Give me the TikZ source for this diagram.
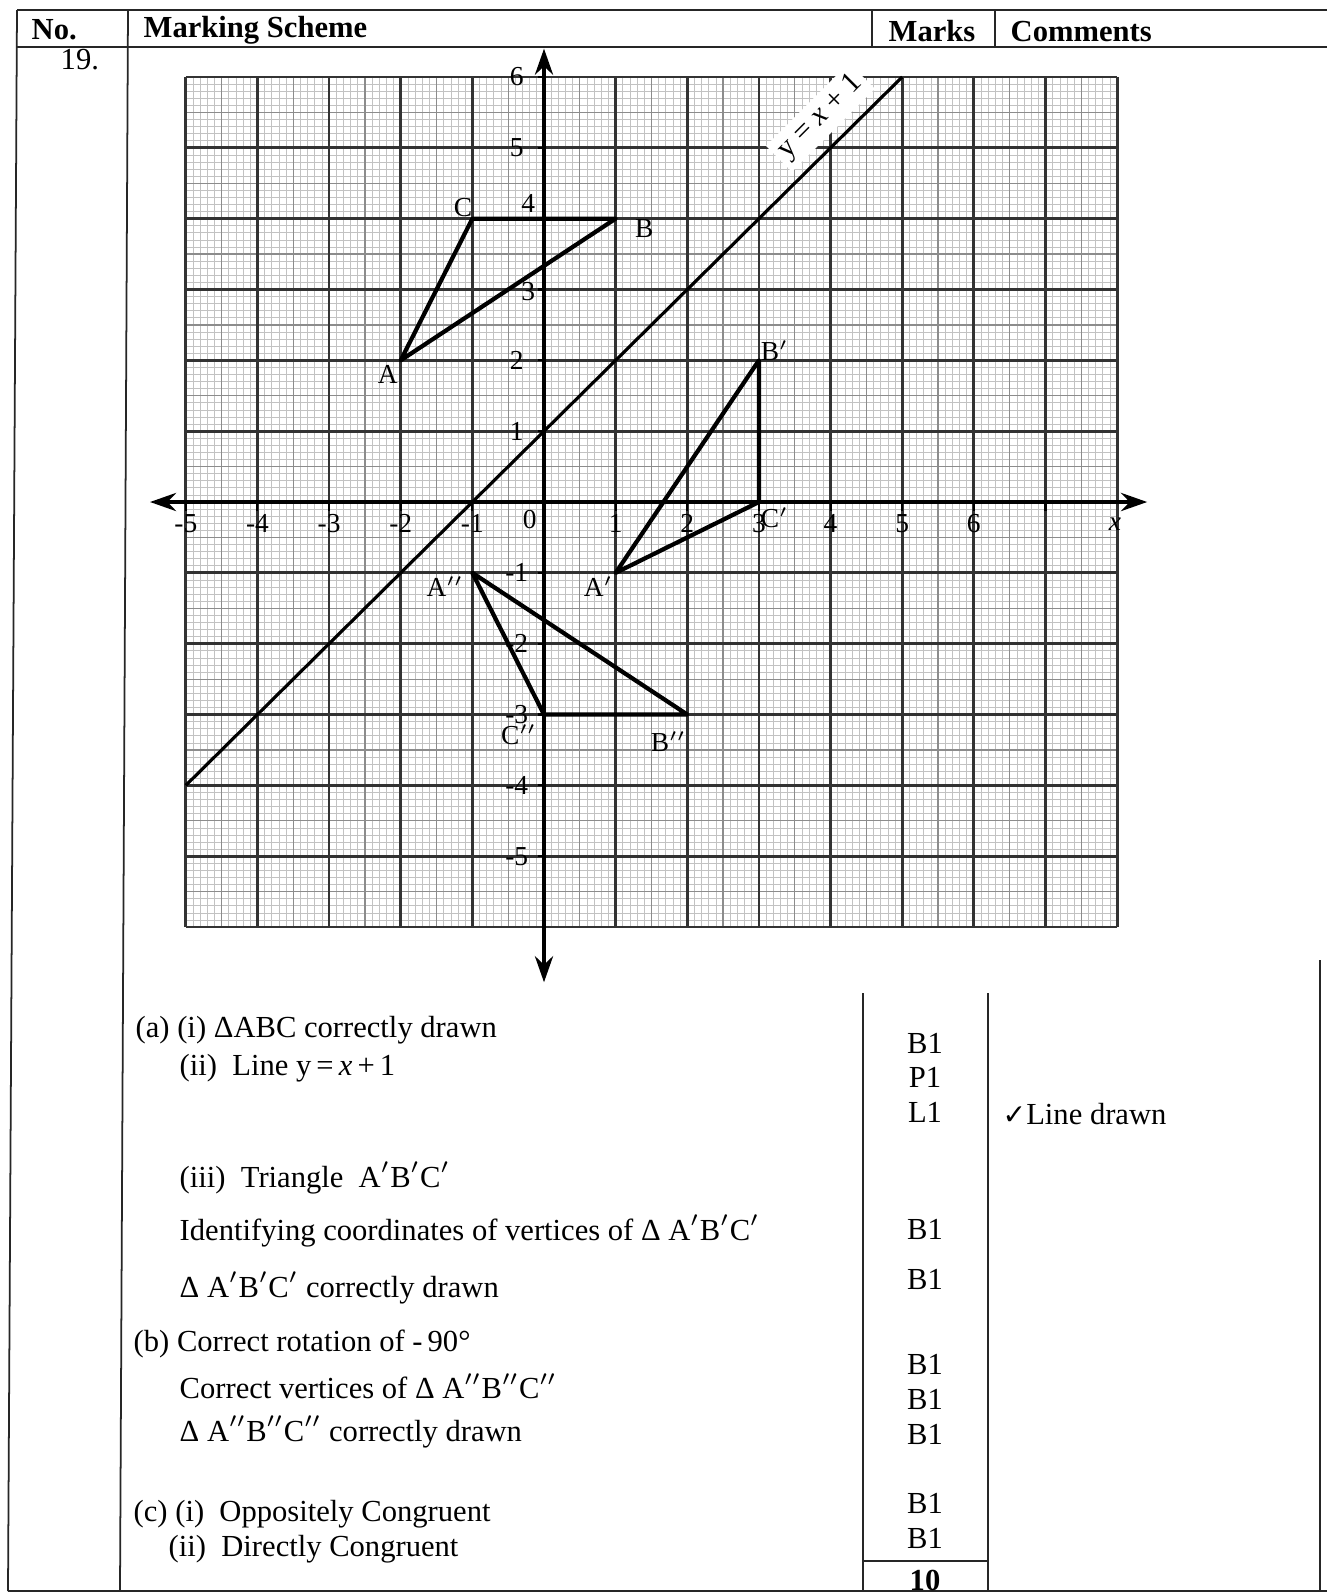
\documentclass[tikz,border=0pt]{standalone}
\usepackage{fontspec}
\setmainfont{Liberation Serif}
\newfontfamily\symfont{DejaVu Sans}
\usetikzlibrary{arrows.meta}

\colorlet{gridfine}{black!24}
\colorlet{gridmid}{black!45}
\colorlet{gridmajor}{black!80}

\tikzset{
  rule/.style={black!85, line width=0.5pt},
  body/.style={anchor=west, inner sep=0pt, font=\fontsize{8.7}{10}\selectfont},
  head/.style={anchor=west, inner sep=0pt, font=\fontsize{8.7}{10}\selectfont\bfseries},
  score/.style={inner sep=0pt, font=\fontsize{8.7}{10}\selectfont},
  ticklab/.style={inner sep=0pt, font=\fontsize{7.8}{9}\selectfont},
  vlab/.style={inner sep=0pt, font=\fontsize{7.8}{9}\selectfont},
  tri/.style={line width=1.2pt, line join=round},
  axis/.style={line width=1.4pt, {Stealth[length=2.6mm,width=1.8mm]}-{Stealth[length=2.6mm,width=1.8mm]}}
}

\begin{document}
\begin{tikzpicture}[x=0.01cm, y=-0.01cm]
    \useasboundingbox (0,0) rectangle (1327,1596);
    \fill[white] (0,0) rectangle (1327,1596);

    % table rules
    \draw[rule] (17,10) -- (1327,10);
    \draw[rule] (17,47) -- (1327,47);
    \draw[rule] (8,1591) -- (1327,1591);
    \draw[rule] (17,10) -- (8,1591);
    \draw[rule] (128,10) -- (120,1591);
    \draw[rule] (872,10) -- (872,47);
    \draw[rule] (995,10) -- (995,47);
    \draw[rule] (863,993) -- (863,1591);
    \draw[rule] (988,993) -- (988,1591);
    \draw[rule] (863,1561) -- (988,1561);
    \draw[rule] (1320,960) -- (1320,1591);

    % header
    \node[head] (no) at (31,30) {No.};
    \node[head] (scheme) at (143,30) {Marking Scheme};
    \node[head, anchor=center] (marks) at (932,31) {Marks};
    \node[head] (comments) at (1010,32) {Comments};
    \node[body] (qno) at (60,60) {19.};

    % graph paper
    \begin{scope}[shift={(544,502)}, x=0.716cm, y=0.708cm]
        \draw[step=0.1, gridfine, line width=0.2pt] (-5,-6) grid (8,6);
        \draw[step=0.5, gridmid, line width=0.35pt] (-5,-6) grid (8,6);
        \draw[step=1, gridmajor, line width=0.8pt] (-5,-6) grid (8,6);

        \coordinate (xl) at (-5.5,0);
        \coordinate (xr) at (8.42,0);
        \coordinate (yb) at (0,-6.78);
        \coordinate (yt) at (0,6.4);
        \draw[axis] (xl) -- (xr);
        \draw[axis] (yb) -- (yt);

        \foreach \x in {-5,...,7}
            \draw[line width=0.6pt] (\x,0) -- (\x,-0.12);
        \foreach \y in {-5,...,6}
            \draw[line width=0.6pt] (0,\y) -- (-0.08,\y);

        \foreach \x in {-5,-4,-3,-2,-1,1,2,3,4,5,6}
            \node[ticklab] (xlab\x) at (\x,-0.3) {\x};
        \node[ticklab] (xlab0) at (-0.2,-0.25) {0};
        \node[ticklab] (xname) at (7.97,-0.32) {\textit{x}};

        \foreach \y in {6,5,2,1,-1,-2,-3,-4,-5}
            \node[ticklab] (ylab\y) at (-0.38,\y) {\y};
        \node[ticklab] (ylab4) at (-0.22,4.22) {4};
        \node[ticklab] (ylab3) at (-0.22,2.97) {3};

        % mirror line
        \coordinate (L0) at (-5,-4);
        \coordinate (L1) at (5,6);
        \draw[line width=0.9pt] (L0) -- (L1);
        \node[fill=white, inner sep=1.5pt, rotate=45, font=\fontsize{8.5}{10}\selectfont] (linelab) at (3.86,5.43) {y = \textit{x} + 1};

        % triangles
        \coordinate (A) at (-2,2);
        \coordinate (B) at (1,4);
        \coordinate (C) at (-1,4);
        \coordinate (Ap) at (1,-1);
        \coordinate (Bp) at (3,2);
        \coordinate (Cp) at (3,0);
        \coordinate (App) at (-1,-1);
        \coordinate (Bpp) at (2,-3);
        \coordinate (Cpp) at (0,-3);
        \draw[tri] (A) -- (B) -- (C) -- cycle;
        \draw[tri] (Ap) -- (Bp) -- (Cp) -- cycle;
        \draw[tri] (App) -- (Bpp) -- (Cpp) -- cycle;

        \node[vlab] (labA) at (-2.18,1.8) {A};
        \node[vlab] (labB) at (1.4,3.86) {B};
        \node[vlab] (labC) at (-1.13,4.16) {C};
        \node[vlab] (labAp) at (0.76,-1.2) {A$'$};
        \node[vlab] (labBp) at (3.22,2.14) {B$'$};
        \node[vlab] (labCp) at (3.22,-0.22) {C$'$};
        \node[vlab] (labApp) at (-1.38,-1.2) {A$''$};
        \node[vlab] (labBpp) at (1.74,-3.38) {B$''$};
        \node[vlab] (labCpp) at (-0.35,-3.28) {C$''$};
    \end{scope}

    % marking scheme
    \node[body] (ai) at (135,1030) {(a) (i) ΔABC correctly drawn};
    \node[body] (aii) at (179,1068) {(ii) \ Line y\,=\,\textit{x}\,+\,1};
    \node[body] (aiii) at (179,1178) {(iii) \ Triangle \ A$'$B$'$C$'$};
    \node[body] (ident) at (179,1231) {Identifying coordinates of vertices of Δ A$'$B$'$C$'$};
    \node[body] (drawn1) at (179,1288) {Δ A$'$B$'$C$'$ correctly drawn};
    \node[body] (b) at (133,1344) {(b) Correct rotation of -\,90°};
    \node[body] (vert) at (179,1386) {Correct vertices of Δ A$''$B$''$C$''$};
    \node[body] (drawn2) at (179,1432) {Δ A$''$B$''$C$''$ correctly drawn};
    \node[body] (ci) at (133,1514) {(c) (i) \ Oppositely Congruent};
    \node[body] (cii) at (168,1549) {(ii) \ Directly Congruent};

    % marks
    \foreach \m/\yy [count=\i] in {B1/1043, P1/1077, L1/1112, B1/1229, B1/1279,
                                   B1/1364, B1/1399, B1/1434, B1/1503, B1/1538}
        \node[score] (mk\i) at (925,\yy) {\m};
    \node[score, font=\fontsize{8.7}{10}\selectfont\bfseries] (total) at (925,1580) {10};
    \node[body] (comment) at (1002,1114) {{\symfont\footnotesize ✓}Line drawn};
\end{tikzpicture}
\end{document}
